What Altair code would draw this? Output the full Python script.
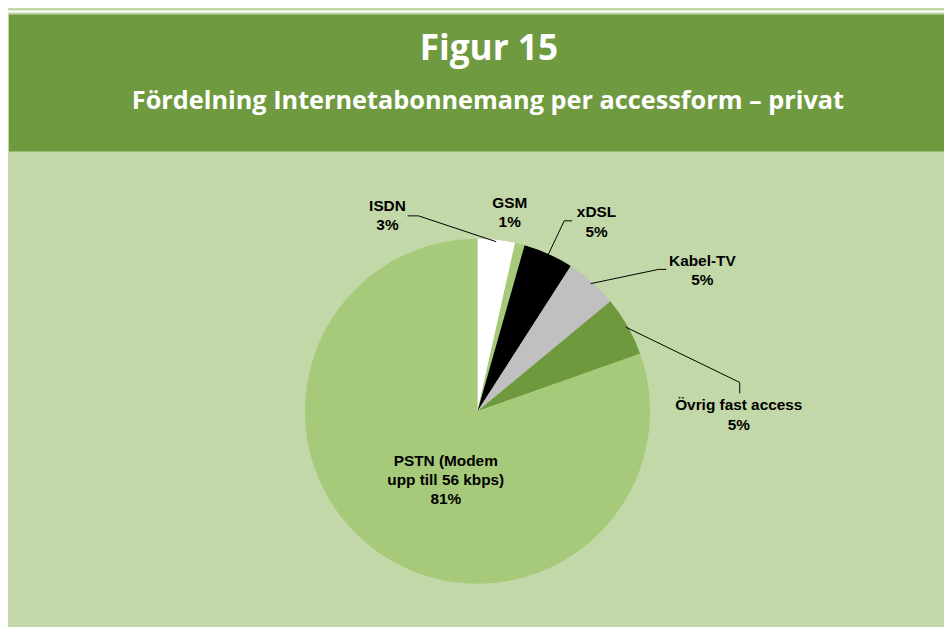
import altair as alt
import pandas as pd
import numpy as np

# ---- data ----
categories = ["ISDN", "GSM", "xDSL", "Kabel-TV", "Övrig fast access",
              "PSTN (Modem upp till 56 kbps)"]
shares = [3.5, 0.9, 4.7, 4.9, 5.6, 80.4]
label_lines = [["ISDN", "3%"], ["GSM", "1%"], ["xDSL", "5%"], ["Kabel-TV", "5%"],
               ["Övrig fast access", "5%"], ["PSTN (Modem", "upp till 56 kbps)", "81%"]]
slice_colors = ["#FFFFFF", "#A6CA79", "#000000", "#C0C0C0", "#6E9A3D", "#A6CA79"]

title_text = "Figur 15"
subtitle_text = "Fördelning Internetabonnemang per accessform – privat"

# ---- layout (chart pixel coordinates; first text line position) ----
W, H = 944, 619
DX = 4
CX, CY, R = 469.5 + DX, 404, 174
LH = 19.5
label_xy = {
    "ISDN": (378.7, 197),
    "GSM": (502, 193.7),
    "xDSL": (589.5, 203.5),
    "Kabel-TV": (696.3, 252.7),
    "Övrig fast access": (733, 398),
    "PSTN (Modem upp till 56 kbps)": (437.5, 454),
}
leader_pts = {  # elbow, end
    "ISDN": [(410, 207), (399, 207)],
    "xDSL": [(557, 212), (565, 212)],
    "Kabel-TV": [(652, 261), (660, 261)],
    "Övrig fast access": [(734, 375), (734, 386)],
}

df = pd.DataFrame({"cat": categories, "share": shares, "idx": range(len(categories))})
df["text"] = label_lines
df["lx"] = [label_xy[c][0] + DX for c in categories]
df["ly"] = [label_xy[c][1] for c in categories]

# leader lines: start at slice mid-angle on the rim
total = sum(shares)
cum = np.cumsum([0] + shares)
rows = []
for i, c in enumerate(categories):
    if c not in leader_pts:
        continue
    mid = (cum[i] + shares[i] / 2) / total * 2 * np.pi
    sx = CX + (R - 2) * np.sin(mid)
    sy = CY - (R - 2) * np.cos(mid)
    pts = [(sx, sy)] + [(px + DX, py) for px, py in leader_pts[c]]
    for k, (px, py) in enumerate(pts):
        rows.append({"cat": c, "k": k, "px": px, "py": py})
lead = pd.DataFrame(rows)

base = alt.Chart(df)

top_white = alt.Chart(pd.DataFrame({"a": [0]})).mark_rect(color="#FFFFFF").encode(
    x=alt.value(0), x2=alt.value(W), y=alt.value(0), y2=alt.value(2))
header = alt.Chart(pd.DataFrame({"a": [0]})).mark_rect(color="#6F9A3F").encode(
    x=alt.value(1), x2=alt.value(W), y=alt.value(4), y2=alt.value(142))

title = alt.Chart(pd.DataFrame({"t": [title_text]})).mark_text(
    font="Open Sans", fontWeight="bold", fontSize=35.5, color="white",
    baseline="alphabetic", align="center").encode(
    x=alt.value(482 + 3), y=alt.value(49.7), text="t:N")
subtitle = alt.Chart(pd.DataFrame({"t": [subtitle_text]})).mark_text(
    font="Open Sans", fontWeight="bold", fontSize=25.5, color="white",
    baseline="alphabetic", align="center").encode(
    x=alt.value(481 + 3), y=alt.value(99), text="t:N")

pie = base.mark_arc(radius=R, stroke=None).encode(
    theta=alt.Theta("share:Q", stack=True),
    order=alt.Order("idx:Q"),
    color=alt.Color("cat:N", scale=alt.Scale(domain=categories, range=slice_colors), legend=None),
    x=alt.value(CX), y=alt.value(CY),
)

leaders = alt.Chart(lead).mark_line(color="black", strokeWidth=1).encode(
    x=alt.X("px:Q", scale=None, axis=None),
    y=alt.Y("py:Q", scale=None, axis=None),
    detail="cat:N",
    order="k:Q",
)

labels = base.mark_text(
    font="Liberation Sans", fontWeight="bold", fontSize=15.5, color="black",
    align="center", baseline="middle", lineHeight=LH).encode(
    x=alt.X("lx:Q", scale=None, axis=None),
    y=alt.Y("ly:Q", scale=None, axis=None),
    text="text",
)

chart = alt.layer(top_white, header, title, subtitle, pie, leaders, labels).properties(
    width=W, height=H, autosize=alt.AutoSizeParams(type="none"), padding=0,
    background="#C3D8A8",
).configure_view(strokeWidth=0)

chart.save("out.html", embed_options={"renderer": "svg", "actions": False})
